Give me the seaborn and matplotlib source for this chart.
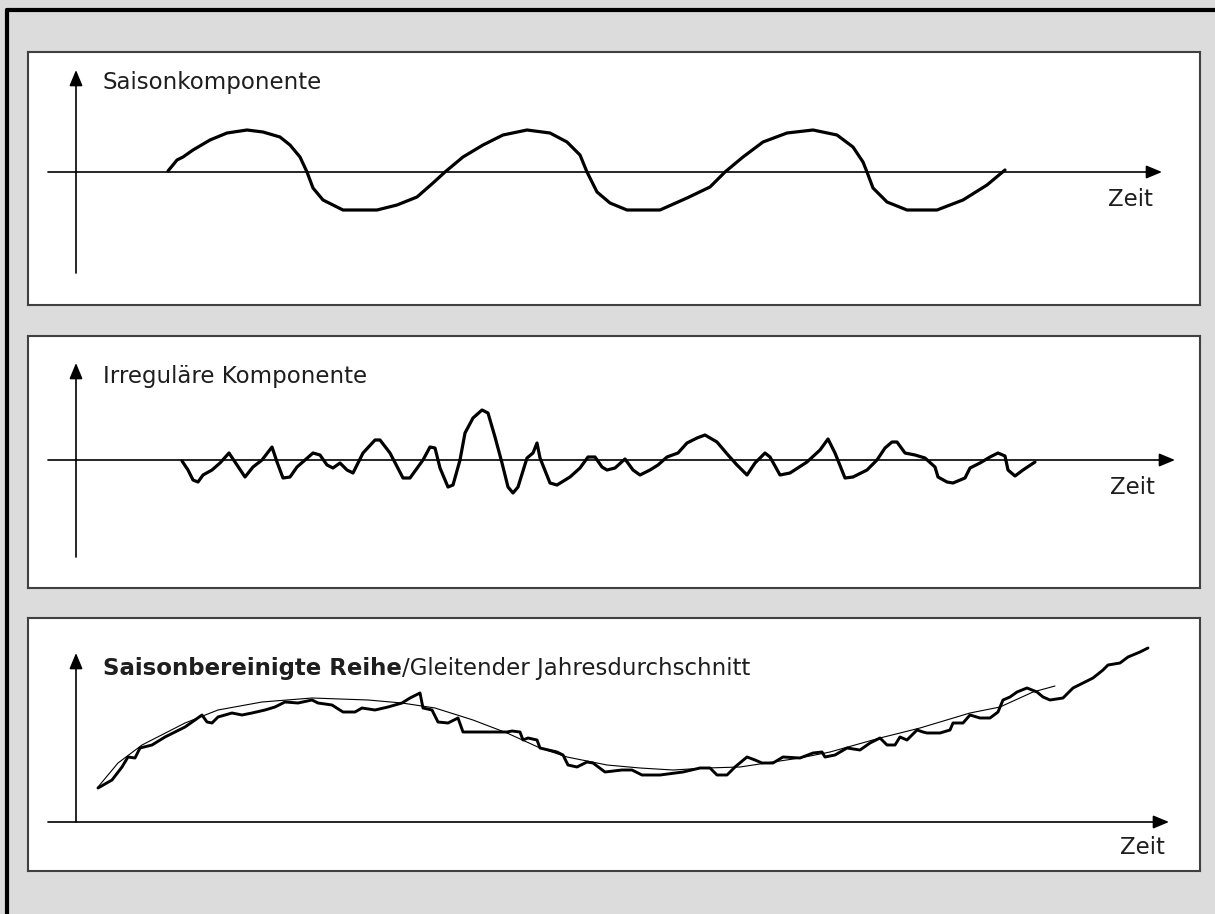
# ============================================================
# ZEITREIHEN-KOMPONENTEN: SAISON / IRREGULAER / BEREINIGT
# ============================================================

import matplotlib
matplotlib.use("Agg")

import matplotlib.pyplot as plt
import seaborn as sns
from matplotlib.lines import Line2D

sns.set_style("white")
plt.rcParams["font.family"] = ["DejaVu Sans"]

# ================= DATA =================
# Zeit = horizontal distance from the vertical axis, Wert = height above the time axis

saison_zeit = [92, 101, 107, 117, 134, 151, 171, 187, 204, 214,
               224, 231, 237, 247, 267, 301, 321, 341, 357, 369,
               387, 407, 427, 451, 474, 491, 504, 511, 521, 534,
               551, 584, 611, 634, 649, 667, 687, 711, 737, 761,
               777, 787, 791, 797, 811, 831, 861, 887, 911, 929]
saison_wert = [1, 12, 15, 22, 32, 39, 42, 40, 35, 27,
               15, 0, -16, -28, -38, -38, -33, -25, -11, 0,
               15, 27, 37, 42, 39, 30, 17, 0, -20, -31,
               -38, -38, -26, -15, 0, 15, 30, 39, 42, 37,
               25, 10, 0, -16, -30, -38, -38, -28, -13, 2]

irregulaer_zeit = [106, 112, 117, 122, 127, 136, 144, 153, 161, 169,
                   177, 186, 196, 201, 207, 214, 221, 237, 244, 251,
                   257, 264, 271, 277, 287, 299, 304, 314, 327, 334,
                   347, 354, 359, 364, 372, 377, 384, 389, 397, 406,
                   412, 419, 426, 432, 437, 442, 451, 457, 461, 464,
                   474, 481, 494, 504, 512, 519, 526, 531, 539, 549,
                   557, 564, 574, 582, 591, 602, 611, 621, 629, 641,
                   652, 661, 671, 679, 689, 694, 704, 714, 731, 744,
                   752, 759, 769, 777, 791, 801, 809, 816, 821, 829,
                   839, 849, 859, 862, 871, 877, 889, 894, 904, 914,
                   922, 929, 932, 939, 947, 959]
irregulaer_wert = [-1, -10, -20, -22, -15, -10, -3, 7, -5, -17,
                   -7, 0, 13, -2, -18, -17, -7, 7, 5, -5,
                   -8, -3, -10, -13, 7, 20, 20, 7, -18, -18,
                   0, 13, 12, -8, -27, -25, 0, 27, 42, 50,
                   47, 23, -3, -27, -33, -27, 2, 7, 17, 2,
                   -23, -25, -17, -8, 3, 3, -7, -10, -8, 1,
                   -10, -15, -10, -5, 3, 7, 17, 22, 25, 18,
                   5, -5, -15, -3, 7, 3, -15, -13, -2, 10,
                   21, 7, -18, -17, -10, 0, 12, 18, 18, 7,
                   5, 2, -7, -17, -22, -23, -18, -8, -3, 3,
                   7, 4, -10, -16, -10, -2]

bereinigt_zeit = [22, 36, 46, 52, 59, 64, 76, 89, 99, 109,
                  119, 126, 131, 136, 142, 156, 166, 176, 189, 199,
                  209, 222, 236, 242, 256, 267, 279, 286, 299, 312,
                  326, 334, 344, 347, 356, 362, 372, 382, 387, 431,
                  436, 444, 447, 452, 461, 464, 481, 487, 492, 501,
                  511, 517, 529, 546, 556, 566, 584, 607, 624, 634,
                  641, 651, 659, 671, 679, 686, 697, 707, 724, 737,
                  746, 749, 759, 771, 784, 794, 804, 811, 819, 824,
                  831, 841, 847, 851, 864, 874, 877, 887, 894, 904,
                  914, 922, 927, 934, 941, 951, 961, 967, 974, 987,
                  997, 1007, 1017, 1027, 1032, 1044, 1052, 1064, 1072]
bereinigt_wert = [34, 42, 55, 65, 64, 74, 77, 85, 90, 95,
                  102, 107, 100, 99, 105, 109, 107, 109, 112, 115,
                  120, 119, 122, 119, 117, 110, 110, 114, 112, 115,
                  119, 124, 129, 114, 112, 100, 99, 104, 90, 90,
                  91, 90, 82, 84, 82, 74, 70, 67, 57, 55,
                  60, 59, 50, 52, 52, 47, 47, 50, 54, 54,
                  47, 47, 55, 65, 62, 59, 59, 65, 64, 69,
                  70, 65, 67, 74, 72, 79, 84, 77, 77, 85,
                  82, 92, 90, 89, 89, 92, 99, 99, 107, 104,
                  104, 110, 122, 125, 130, 134, 130, 125, 122, 124,
                  134, 139, 144, 152, 157, 159, 165, 170, 174]

gleitend_zeit = [22, 42, 66, 109, 142, 186, 236, 292, 326, 359,
                 397, 431, 464, 491, 531, 564, 597, 631, 664, 697,
                 724, 754, 804, 844, 894, 924, 957, 979]
gleitend_wert = [35, 59, 77, 99, 112, 120, 124, 122, 119, 114,
                 102, 89, 74, 65, 57, 54, 52, 54, 55, 60,
                 64, 70, 84, 94, 109, 115, 130, 136]

titel = ["Saisonkomponente", "Irreguläre Komponente", "Saisonbereinigte Reihe"]
titel_zusatz = "/Gleitender Jahresdurchschnitt"
achse_x = "Zeit"

# ================= LAYOUT =================

W, H = 1215, 914
BG = "#dcdcdc"
FRAME = "#404040"
INK = "#1e1e1e"
FS = 16.5

fig = plt.figure(figsize=(W / 100, H / 100), dpi=100, facecolor=BG)

# panel rect in pixels: left, top, right, bottom ; ylim ; axis extents
panels = [
    dict(rect=(28, 52, 1200, 305), ylim=(-133, 120), yaxis=(-101, 102), xtip=1086,
         title_y=89, zeit=(1077, -27)),
    dict(rect=(28, 336, 1200, 588), ylim=(-128, 124), yaxis=(-97, 97), xtip=1099,
         title_y=83, zeit=(1079, -27)),
    dict(rect=(28, 618, 1200, 871), ylim=(-49, 204), yaxis=(0, 169), xtip=1093,
         title_y=154, zeit=(1089, -25)),
]

axes = []
for p in panels:
    l, t, r, b = p["rect"]
    ax = fig.add_axes([l / W, 1 - b / H, (r - l) / W, (b - t) / H])
    ax.set_facecolor("white")
    ax.set_xlim(-48, 1124)
    ax.set_ylim(*p["ylim"])
    ax.set_xticks([])
    ax.set_yticks([])
    for s in ax.spines.values():
        s.set_color(FRAME)
        s.set_linewidth(1.5)
        s.set_visible(True)

    arrow = dict(arrowstyle="-|>,head_length=0.6,head_width=0.25", color="black",
                 lw=1.2, shrinkA=0, shrinkB=0, mutation_scale=16)
    ax.annotate("", xy=(p["xtip"], 0), xytext=(-28, 0), arrowprops=arrow)
    ax.annotate("", xy=(0, p["yaxis"][1]), xytext=(0, p["yaxis"][0]), arrowprops=arrow)

    ax.text(p["zeit"][0], p["zeit"][1], achse_x, ha="right", va="center",
            fontsize=FS, color=INK)
    axes.append(ax)

# ================= CURVES =================

sns.lineplot(x=saison_zeit, y=saison_wert, ax=axes[0], color="black",
             linewidth=2.3, estimator=None, sort=False)

sns.lineplot(x=irregulaer_zeit, y=irregulaer_wert, ax=axes[1], color="black",
             linewidth=2.3, estimator=None, sort=False)

sns.lineplot(x=gleitend_zeit, y=gleitend_wert, ax=axes[2], color="black",
             linewidth=0.8, estimator=None, sort=False)
sns.lineplot(x=bereinigt_zeit, y=bereinigt_wert, ax=axes[2], color="black",
             linewidth=2.1, estimator=None, sort=False)

for ax in axes:
    ax.set_xlabel("")
    ax.set_ylabel("")

# ================= TITLES =================

axes[0].text(27, panels[0]["title_y"], titel[0], va="center", fontsize=FS, color=INK)
axes[1].text(27, panels[1]["title_y"], titel[1], va="center", fontsize=FS, color=INK)
t_bold = axes[2].text(27, panels[2]["title_y"], titel[2], va="center",
                      fontsize=FS, fontweight="bold", color=INK)
axes[2].annotate(titel_zusatz, xy=(1, 0), xycoords=t_bold, va="bottom", ha="left",
                 fontsize=FS, color=INK)

# ================= OUTER BORDER (top + left) =================

fig.add_artist(Line2D([7 / W, 7 / W], [0, 1 - 9.5 / H], color="black", lw=3,
                      transform=fig.transFigure))
fig.add_artist(Line2D([7 / W, 1], [1 - 9.5 / H, 1 - 9.5 / H], color="black", lw=3,
                      transform=fig.transFigure))

fig.savefig("out.png", dpi=100, facecolor=BG)
